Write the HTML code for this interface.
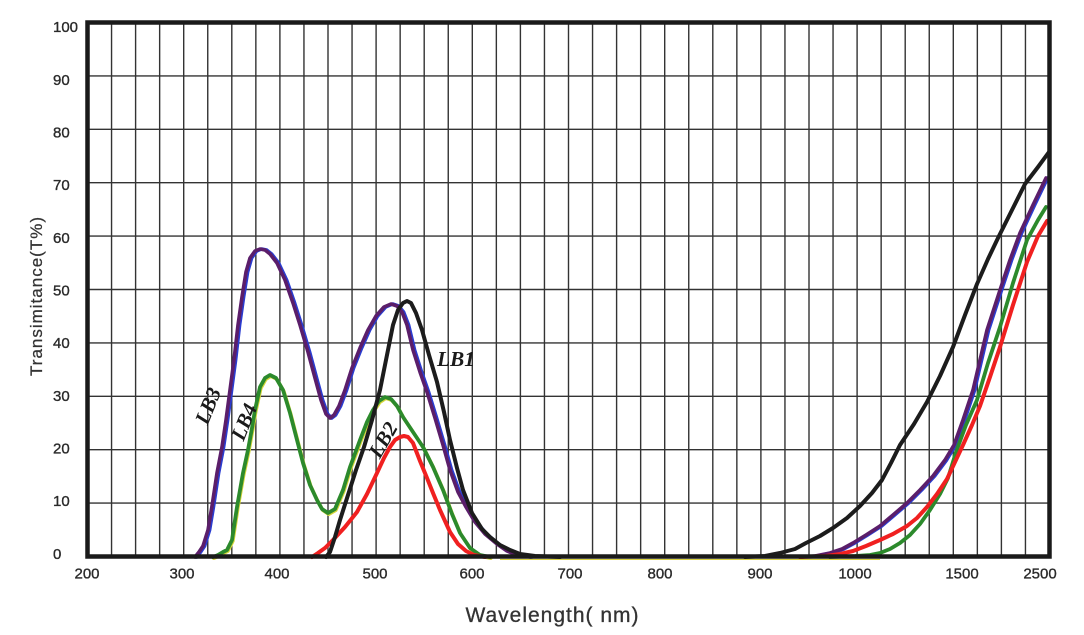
<!DOCTYPE html>
<html><head><meta charset="utf-8"><style>
html,body{margin:0;padding:0;background:#fff;}
svg{display:block;}
</style></head><body>
<svg width="1084" height="635" viewBox="0 0 1084 635" xmlns="http://www.w3.org/2000/svg">
<rect x="0" y="0" width="1084" height="635" fill="#fff"/>
<g stroke="#333" stroke-width="1.4" fill="none">
<path d="M111.55 22V557M135.6 22V557M159.65 22V557M183.7 22V557M207.75 22V557M231.8 22V557M255.85 22V557M279.9 22V557M303.95 22V557M328 22V557M352.05 22V557M376.1 22V557M400.15 22V557M424.2 22V557M448.25 22V557M472.3 22V557M496.35 22V557M520.4 22V557M544.45 22V557M568.5 22V557M592.55 22V557M616.6 22V557M640.65 22V557M664.7 22V557M688.75 22V557M712.8 22V557M736.85 22V557M760.9 22V557M784.95 22V557M809 22V557M833.05 22V557M857.1 22V557M881.15 22V557M905.2 22V557M929.25 22V557M953.3 22V557M977.35 22V557M1001.4 22V557M1025.45 22V557"/>
<path d="M88 503.1H1049M88 449.7H1049M88 396.3H1049M88 342.9H1049M88 289.5H1049M88 236.1H1049M88 182.7H1049M88 129.3H1049M88 75.9H1049"/>
</g>
<line x1="500" y1="559.5" x2="880" y2="559.5" stroke="#d8d040" stroke-width="1"/>
<g fill="none" stroke-linejoin="round" stroke-linecap="round">
<g transform="translate(1.6,0)" stroke="#2a3cd0" stroke-width="3.6">
<polyline points="195,557 199,552 203,546 208,530 212,506 217,473 222,447 226,420 230,390 234,360 238,325 242,297 246,272 250,258 255,251 260,249 265,250 270,254 277,263 285,280 293,303 300,325 308,352 315,378 321,400 326,414 330,418 334,415 339,406 345,390 352,368 360,348 368,330 376,316 384,307 391,304 397,306 402,312 407,325 413,350 420,372 427,392 435,418 443,445 450,470 458,492 466,507 475,522 485,534 497,544 507,551 517,555 530,557"/>
<polyline points="800,557 815,556 830,553 842,549 853,543 866,535 880,526 893,515 907,503 920,490 933,476 945,460 954,445 963,420 973,390 980,360 987,330 1000,290 1010,260 1020,233 1033,205 1046,178"/>
</g>
<g stroke="#5b1e6a" stroke-width="3.6">
<polyline points="195,557 199,552 203,546 208,530 212,506 217,473 222,447 226,420 230,390 234,360 238,325 242,297 246,272 250,258 255,251 260,249 265,250 270,254 277,263 285,280 293,303 300,325 308,352 315,378 321,400 326,414 330,418 334,415 339,406 345,390 352,368 360,348 368,330 376,316 384,307 391,304 397,306 402,312 407,325 413,350 420,372 427,392 435,418 443,445 450,470 458,492 466,507 475,522 485,534 497,544 507,551 517,555 530,557"/>
<polyline points="800,557 815,556 830,553 842,549 853,543 866,535 880,526 893,515 907,503 920,490 933,476 945,460 954,445 963,420 973,390 980,360 987,330 1000,290 1010,260 1020,233 1033,205 1046,178"/>
</g>
<g transform="translate(0.8,1.2)" stroke="#d6d63a" stroke-width="3.6">
<polyline points="213,557 218,555 223,552 227,550 232,540 237,507 243,473 248,450 252,428 255,410 260,387 265,378 270,375 276,378 283,390 290,413 297,440 303,463 310,485 317,500 322,509 328,513 335,509 343,490 350,467 360,440 367,422 373,410 379,401 385,397 391,399 397,406 403,417 413,432 423,447 433,467 443,490 452,514 460,533 470,548 480,555 490,557"/>
</g>
<g stroke="#2c8a2c" stroke-width="3.8">
<polyline points="213,557 218,555 223,552 227,550 232,540 237,507 243,473 248,450 252,428 255,410 260,387 265,378 270,375 276,378 283,390 290,413 297,440 303,463 310,485 317,500 322,509 328,513 335,509 343,490 350,467 360,440 367,422 373,410 379,401 385,397 391,399 397,406 403,417 413,432 423,447 433,467 443,490 452,514 460,533 470,548 480,555 490,557"/>
<polyline points="830,557 855,556 870,555 880,553 890,549 900,543 910,535 920,524 930,510 940,494 948,478 956,452 966,425 977,400 988,363 1000,327 1013,283 1027,240 1038,220 1046,207"/>
</g>
<g stroke="#f02020" stroke-width="4">
<polyline points="312,557 318,553 325,548 333,540 345,527 357,512 367,494 377,473 384,458 390,447 395,440 400,437 404,436 408,437 413,443 420,461 427,478 433,493 440,510 450,532 458,544 466,551 474,555 485,557"/>
<polyline points="800,557 826,556 840,554 853,551 866,546 880,540 893,534 907,526 917,518 927,507 937,494 947,479 955,462 963,445 972,425 980,406 990,377 1000,347 1013,305 1027,262 1038,236 1047,221"/>
</g>
<g stroke="#1c1c1c" stroke-width="4">
<polyline points="326,557 330,552 335,537 340,520 348,495 356,470 364,447 372,420 380,390 387,355 393,325 398,310 403,303 407,301 411,303 416,313 422,330 429,355 437,382 444,412 450,440 457,468 463,490 472,513 482,529 490,537 500,545 510,550 520,554 535,556 560,557"/>
<polyline points="745,557 765,556 780,553 795,549 806,543 820,536 833,528 847,518 860,506 872,493 882,480 891,463 900,445 914,424 927,402 940,376 953,347 965,315 977,284 988,259 998,238 1012,210 1025,184 1038,167 1049,152"/>
</g>
</g>
<rect x="87.5" y="22.5" width="962" height="534" fill="none" stroke="#1a1a1a" stroke-width="4.5"/>
<g font-family="'Liberation Sans', Arial, sans-serif" font-size="15" fill="#2a2a2a" stroke="#2a2a2a" stroke-width="0.35">
<text x="53" y="32.1">100</text>
<text x="53" y="84.8">90</text>
<text x="53" y="137.5">80</text>
<text x="53" y="190.1">70</text>
<text x="53" y="242.8">60</text>
<text x="53" y="295.5">50</text>
<text x="53" y="348.2">40</text>
<text x="53" y="400.9">30</text>
<text x="53" y="453.5">20</text>
<text x="53" y="506.2">10</text>
<text x="53" y="558.9">0</text>
</g>
<g font-family="'Liberation Sans', Arial, sans-serif" font-size="15" fill="#2a2a2a" stroke="#2a2a2a" stroke-width="0.35" text-anchor="middle">
<text x="87" y="578.5">200</text>
<text x="182" y="578.5">300</text>
<text x="277" y="578.5">400</text>
<text x="375" y="578.5">500</text>
<text x="472" y="578.5">600</text>
<text x="570" y="578.5">700</text>
<text x="660" y="578.5">800</text>
<text x="760" y="578.5">900</text>
<text x="855" y="578.5">1000</text>
<text x="962" y="578.5">1500</text>
<text x="1040" y="578.5">2500</text>
</g>
<text x="552.5" y="622" font-family="'Liberation Sans', Arial, sans-serif" font-size="21" letter-spacing="1" fill="#333" stroke="#333" stroke-width="0.3" text-anchor="middle">Wavelength( nm)</text>
<text transform="translate(42,296) rotate(-90)" font-family="'Liberation Sans', Arial, sans-serif" font-size="17" letter-spacing="1" fill="#333" stroke="#333" stroke-width="0.25" text-anchor="middle">Transimitance(T%)</text>
<g font-family="'Liberation Serif', 'Times New Roman', serif" font-weight="bold" font-style="italic" font-size="21" fill="#1a1a1a">
<text x="437" y="366" textLength="38" lengthAdjust="spacingAndGlyphs">LB1</text>
<text transform="translate(208,406) rotate(-68)" text-anchor="middle" dominant-baseline="central">LB3</text>
<text transform="translate(244,422) rotate(-68)" text-anchor="middle" dominant-baseline="central">LB4</text>
<text transform="translate(383,440) rotate(-60)" text-anchor="middle" dominant-baseline="central">LB2</text>
</g>
</svg>
</body></html>
